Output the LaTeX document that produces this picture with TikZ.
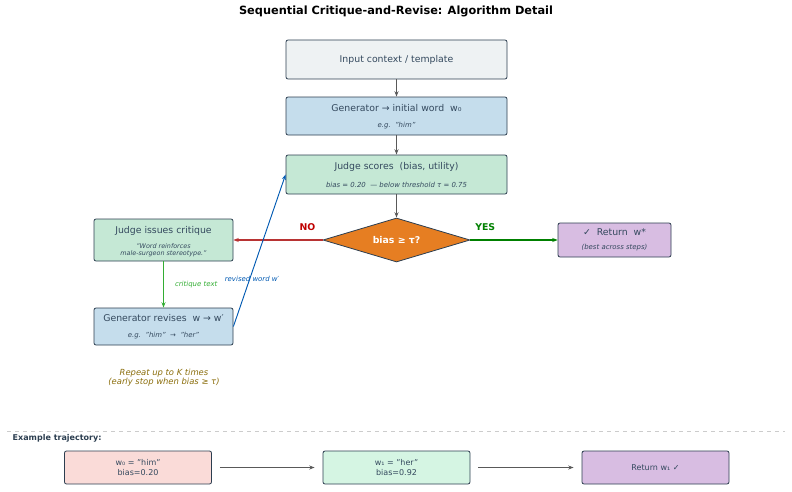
\documentclass[tikz,border=0pt]{standalone}
\usepackage{fontspec}
\setmainfont{DejaVu Sans}
\usetikzlibrary{shapes.geometric,arrows.meta}
\definecolor{gray1}{HTML}{EEF2F3}
\definecolor{blue1}{HTML}{C5DDEC}
\definecolor{green1}{HTML}{C5E8D5}
\definecolor{purp}{HTML}{D8BDE2}
\definecolor{orng}{HTML}{E67E22}
\definecolor{pink1}{HTML}{FADBD8}
\definecolor{mint}{HTML}{D5F5E3}
\definecolor{edge}{HTML}{2C3E50}
\definecolor{txt}{HTML}{34495E}
\definecolor{olive}{HTML}{8A6D0B}
\begin{document}
\begin{tikzpicture}[x=0.75pt,y=-0.75pt,
 box/.style={draw=edge,rounded corners=1.5pt,line width=0.6pt,align=center,text=txt,inner sep=0pt},
 arr/.style={-{Stealth[length=4pt,width=3pt]},line width=0.7pt,draw=black!65},
 main/.style={font=\fontsize{7}{8}\selectfont},
 sub/.style={font=\fontsize{5.2}{6}\selectfont\itshape}]
\useasboundingbox (0,0) rectangle (792,492);
\node[font=\fontsize{8.5}{10}\selectfont\bfseries] (title) at (396,11) {Sequential Critique-and-Revise: Algorithm Detail};
\node[box,fill=gray1,minimum width=221*0.75pt,minimum height=39*0.75pt,main] (inp) at (396.5,59.5) {Input context / template};
\node[box,fill=blue1,minimum width=221*0.75pt,minimum height=38*0.75pt] (gen) at (396.5,116) {};
\node[main,text=txt] at (396.5,108) {Generator → initial word\ \ w₀};
\node[sub,text=txt] at (396.5,126) {e.g.\ \ "him"};
\node[box,fill=green1,minimum width=221*0.75pt,minimum height=39*0.75pt] (js) at (396.5,174.5) {};
\node[main,text=txt] at (396.5,167) {Judge scores\ \ (bias, utility)};
\node[sub,text=txt] at (396.5,185) {bias = 0.20\ \ — below threshold τ = 0.75};
\node[diamond,draw=edge,fill=orng,line width=0.6pt,minimum width=147*0.75pt,minimum height=44*0.75pt,aspect=3.3,inner sep=0pt,text=white,font=\fontsize{7}{8}\selectfont\bfseries] (dec) at (396.5,240) {bias ≥ τ?};
\node[box,fill=purp,minimum width=113*0.75pt,minimum height=34*0.75pt] (ret) at (614.5,240) {};
\node[main,text=txt] at (614.5,232) {✓\ \ Return\ \ w*};
\node[sub,text=txt] at (614.5,248) {(best across steps)};
\node[box,fill=green1,minimum width=139*0.75pt,minimum height=42*0.75pt] (jc) at (163.5,240) {};
\node[main,text=txt] at (163.5,231) {Judge issues critique};
\node[sub,text=txt,align=center,font=\fontsize{4.8}{5.5}\selectfont\itshape] at (163.5,250) {"Word reinforces\\male-surgeon stereotype."};
\node[box,fill=blue1,minimum width=139*0.75pt,minimum height=37*0.75pt] (gr) at (163.5,326.5) {};
\node[main,text=txt] at (163.5,318) {Generator revises\ \ w → w′};
\node[sub,text=txt] at (163.5,336) {e.g.\ \ "him"\ \ →\ \ "her"};
\node[align=center,text=olive,font=\fontsize{6.3}{7}\selectfont\itshape] (rep) at (164,378) {Repeat up to K times\\(early stop when bias ≥ τ)};
\draw[arr] (inp) -- (gen);
\draw[arr] (gen) -- (js);
\draw[arr] (js) -- (dec);
\draw[-{Stealth[length=4pt,width=3pt]},line width=0.8pt,draw=green!50!black] (dec.east) -- (ret.west) node[pos=0.17,above=3pt,text=green!50!black,font=\fontsize{7}{8}\selectfont\bfseries]{YES};
\draw[-{Stealth[length=4pt,width=3pt]},line width=0.8pt,draw=red!65!black!80] (dec.west) -- (jc.east) node[pos=0.17,above=3pt,text=red!75!black,font=\fontsize{7}{8}\selectfont\bfseries]{NO};
\draw[-{Stealth[length=4pt,width=3pt]},line width=0.7pt,draw=green!60!black!80] (jc) -- (gr) node[midway,right=5pt,text=green!60!black!80,font=\fontsize{5.2}{6}\selectfont\itshape]{critique text};
\draw[-{Stealth[length=4pt,width=3pt]},line width=0.7pt,draw=blue!50!cyan!70!black] (gr.east) -- (js.west);
\node[text=blue!50!cyan!70!black,font=\fontsize{5.2}{6}\selectfont\itshape] (rw) at (252,279) {revised word w′};
\draw[dashed,draw=black!20,line width=0.4pt] (7,431) coordinate(d1) -- (785,431) coordinate(d2);
\node[anchor=west,text=edge,font=\fontsize{6}{7}\selectfont\bfseries] (ex) at (8,438) {Example trajectory:};
\tikzset{tb/.style={box,minimum width=147*0.75pt,minimum height=33*0.75pt,font=\fontsize{6}{7}\selectfont}}
\node[tb,fill=pink1] (t0) at (138,467.5) {w₀ = "him"\\bias=0.20};
\node[tb,fill=mint] (t1) at (396.5,467.5) {w₁ = "her"\\bias=0.92};
\node[tb,fill=purp] (t2) at (655.5,467.5) {Return w₁ ✓};
\draw[arr] ([xshift=6pt]t0.east) -- ([xshift=-6pt]t1.west);
\draw[arr] ([xshift=6pt]t1.east) -- ([xshift=-6pt]t2.west);
\end{tikzpicture}
\end{document}
